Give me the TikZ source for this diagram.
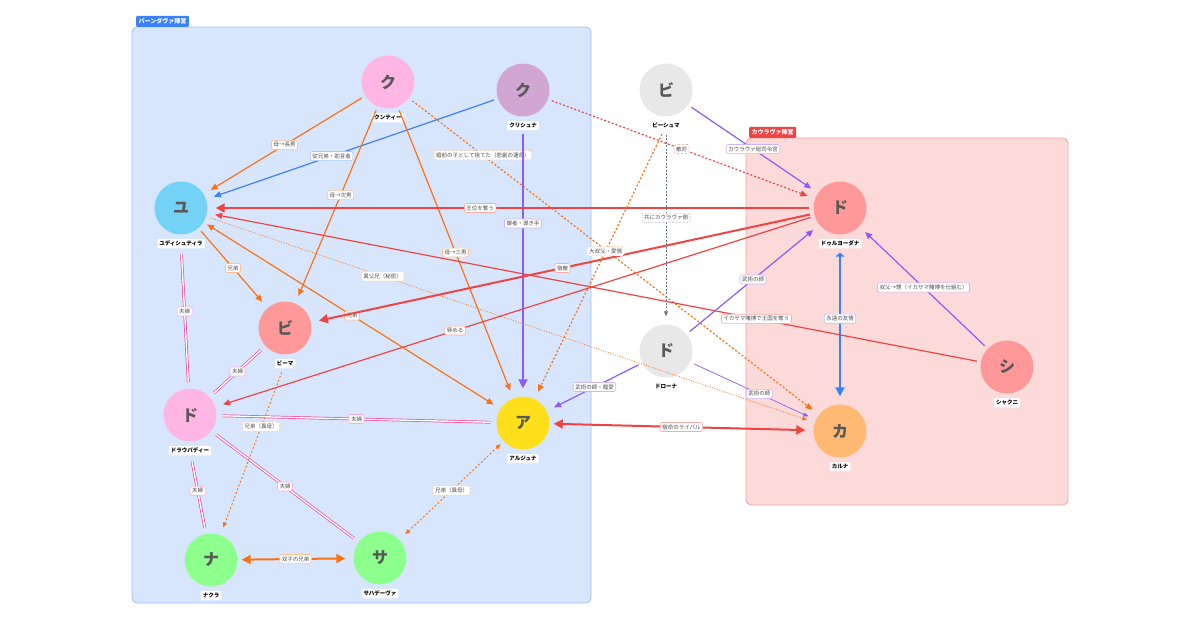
\documentclass[tikz,border=0pt]{standalone}
\usepackage{fontspec}
\setmainfont{Noto Sans CJK JP}
\usetikzlibrary{arrows.meta}
\definecolor{cOr}{HTML}{F97316}
\definecolor{cRd}{HTML}{EF4444}
\definecolor{cBl}{HTML}{3B82F6}
\definecolor{cPu}{HTML}{8B5CF6}
\definecolor{cPk}{HTML}{EC4899}
\definecolor{cGy}{HTML}{6B7280}
\begin{document}
\begin{tikzpicture}[x=1pt,y=-1pt,
 person/.style={circle,minimum size=53pt,inner sep=0pt,font=\fontsize{16}{16}\selectfont\bfseries,text=black!65},
 pname/.style={fill=white,font=\fontsize{5.5}{6}\selectfont\bfseries,inner sep=2pt,rounded corners=1pt},
 lbl/.style={fill=white,draw=#1!45,rounded corners=1.5pt,font=\fontsize{5.5}{6}\selectfont,text=black!70,inner sep=2pt,line width=0.6pt},
 e/.style={draw=#1,line width=1.2pt,shorten >=8pt,shorten <=4pt,-{Triangle[length=7pt,width=6pt]}},
 thick e/.style={draw=#1,line width=2pt,shorten >=8pt,shorten <=4pt,-{Triangle[length=9pt,width=9pt]}},
 thin e/.style={draw=#1,line width=0.7pt,shorten >=8pt,shorten <=4pt,-{Triangle[length=5pt,width=4pt]}},
 dot/.style={dash pattern=on 2pt off 2pt},
 fine dot/.style={dash pattern=on 1pt off 1.5pt},
 mar/.style={draw=cPk,double=white,line width=0.7pt,double distance=1.4pt,shorten >=6pt,shorten <=6pt}
]
\useasboundingbox (0,0) rectangle (1200,630);
% camps
\draw[fill=cBl!20,draw=cBl!50,line width=0.8pt,rounded corners=5pt] (132,27) rectangle (591,603);
\node[fill=cBl,text=white,font=\fontsize{6}{7}\selectfont\bfseries,inner sep=2.5pt,rounded corners=1pt,anchor=south west] (tp) at (136,27) {パーンダヴァ陣営};
\draw[fill=cRd!20,draw=cRd!50,line width=0.8pt,rounded corners=5pt] (746,138) rectangle (1068,505);
\node[fill=cRd,text=white,font=\fontsize{6}{7}\selectfont\bfseries,inner sep=2.5pt,rounded corners=1pt,anchor=south west] (tk) at (749,138) {カウラヴァ陣営};
% people
\node[person,fill=pink!70!magenta!60] (ku) at (388,82) {ク};
\node[person,fill=violet!35] (kr) at (523,90) {ク};
\node[person,fill=gray!18] (bs) at (666,90) {ビ};
\node[person,fill=cyan!55] (yu) at (181,208) {ユ};
\node[person,fill=red!40] (bm) at (285,328) {ビ};
\node[person,fill=pink!70!magenta!60] (dr) at (190,415) {ド};
\node[person,fill=yellow!80!orange!90] (ar) at (523,423) {ア};
\node[person,fill=green!45] (na) at (211,560) {ナ};
\node[person,fill=green!45] (sa) at (380,558) {サ};
\node[person,fill=red!40] (du) at (840,208) {ド};
\node[person,fill=gray!18] (do) at (666,351) {ド};
\node[person,fill=orange!55] (ka) at (840,431) {カ};
\node[person,fill=red!40] (sh) at (1007,367) {シ};
\foreach \n/\t in {ku/クンティー,kr/クリシュナ,bs/ビーシュマ,yu/ユディシュティラ,bm/ビーマ,dr/ドラウパディー,ar/アルジュナ,na/ナクラ,sa/サハデーヴァ,du/ドゥルヨーダナ,do/ドローナ,ka/カルナ,sh/シャクニ}
  \node[pname] (\n-l) at ([yshift=-9pt]\n.south) {\t};
% marriages
\draw[mar] (yu-l) -- (dr) node[pos=.45,lbl=cPk] {夫婦};
\draw[mar] (bm) -- (dr) node[pos=.5,lbl=cPk] {夫婦};
\draw[mar] (dr) -- (ar) node[pos=.5,lbl=cPk] {夫婦};
\draw[mar] (dr-l) -- (na) node[pos=.45,lbl=cPk] {夫婦};
\draw[mar] (dr) -- (sa) node[pos=.5,lbl=cPk] {夫婦};
% edges
\draw[e=cOr] (ku) -- (yu) node[pos=.5,lbl=cOr] {母→長男};
\draw[e=cBl] (kr) -- (yu) node[pos=.57,lbl=cBl] {従兄弟・助言者};
\draw[e=cOr] (ku) -- (bm) node[pos=.45,lbl=cOr] {母→次男};
\draw[e=cOr] (ku) -- (ar) node[pos=.5,lbl=cOr] {母→三男};
\draw[e=cOr,dot] (ku) -- (ka) node[pos=.18,lbl=cOr] {婚前の子として捨てた（悲劇の運命）};
\draw[thick e=cPu] (kr-l) -- (ar) node[pos=.35,lbl=cPu] {御者・導き手};
\draw[e=cRd,dot] (kr) -- (du) node[pos=.5,lbl=cRd] {敵対};
\draw[thick e=cRd] (du) -- (yu) node[pos=.55,lbl=cRd] {王位を奪う};
\draw[e=cRd] (sh) -- (yu) node[pos=.29,lbl=cRd] {イカサマ賭博で王国を奪う};
\draw[e=cOr] (yu) -- (bm) node[pos=.5,lbl=cOr] {兄弟};
\draw[e=cOr,{Triangle[length=7pt,width=6pt]}-{Triangle[length=7pt,width=6pt]}] (yu) -- (ar) node[pos=.5,lbl=cOr] {兄弟};
\draw[thin e=cOr,fine dot] (yu) -- (ka) node[pos=.29,lbl=cOr] {異父兄（秘密）};
\draw[thick e=cRd] (du) -- (bm) node[pos=.5,lbl=cRd] {宿敵};
\draw[e=cRd] (du) -- (dr) node[pos=.6,lbl=cRd] {辱める};
\draw[e=cOr,dot] (bs-l) -- (ar) node[pos=.45,lbl=cOr] {大叔父・愛情};
\draw[thin e=cGy,dash pattern=on 2pt off 1.5pt] (bs-l) -- (do) node[pos=.45,lbl=cGy] {共にカウラヴァ側};
\draw[e=cPu] (bs) -- (du) node[pos=.5,lbl=cPu] {カウラヴァ総司令官};
\draw[e=cPu] (do) -- (du) node[pos=.5,lbl=cPu] {武術の師};
\draw[e=cPu] (do) -- (ar) node[pos=.5,lbl=cPu] {武術の師・寵愛};
\draw[thin e=cPu] (do) -- (ka) node[pos=.55,lbl=cPu] {武術の師};
\draw[thick e=cRd,{Triangle[length=9pt,width=9pt]}-{Triangle[length=9pt,width=9pt]}] (ar) -- (ka) node[pos=.5,lbl=cRd] {宿命のライバル};
\draw[thick e=cBl,{Triangle[length=4pt,width=9pt]}-{Triangle[length=9pt,width=9pt]}] (du-l) -- (ka) node[pos=.45,lbl=cBl] {永遠の友情};
\draw[e=cPu] (sh) -- (du) node[pos=.5,lbl=cPu] {叔父→甥（イカサマ賭博を仕組む）};
\draw[thin e=cOr,dot,line width=0.9pt] (bm-l) -- (na) node[pos=.35,lbl=cOr] {兄弟（異母）};
\draw[thin e=cOr,dot,line width=0.9pt,{Triangle[length=5pt,width=4pt]}-{Triangle[length=5pt,width=4pt]}] (ar) -- (sa) node[pos=.5,lbl=cOr] {兄弟（異母）};
\draw[thick e=cOr,{Triangle[length=9pt,width=9pt]}-{Triangle[length=9pt,width=9pt]}] (na) -- (sa) node[pos=.5,lbl=cOr] {双子の兄弟};
\end{tikzpicture}
\end{document}
